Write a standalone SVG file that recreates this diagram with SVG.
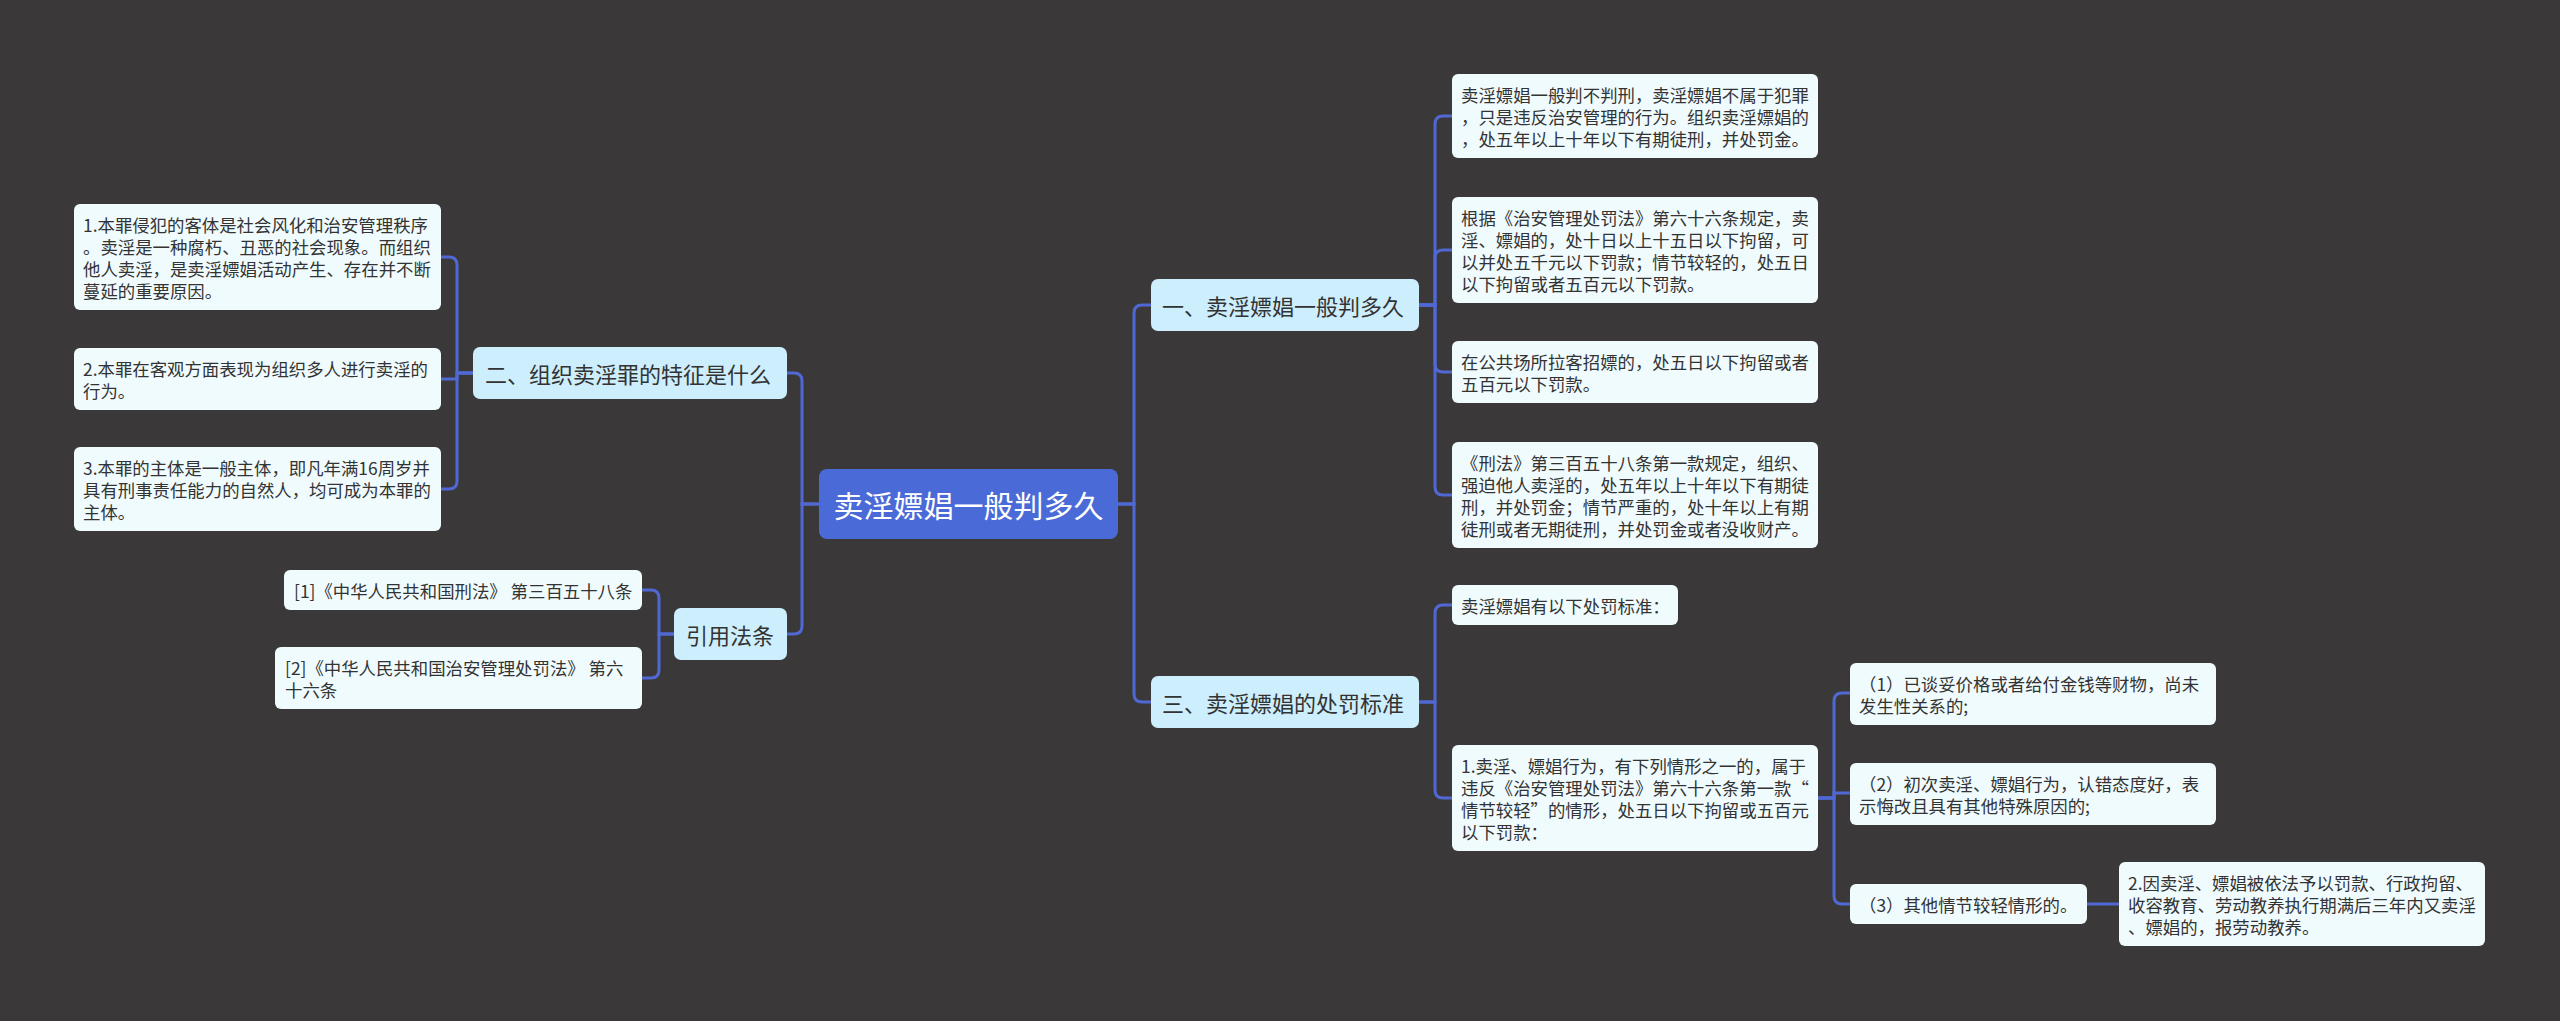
<svg xmlns="http://www.w3.org/2000/svg" width="2560" height="1021" viewBox="0 0 2560 1021">
<style>
text{font-family:"Noto Sans CJK SC","Noto Sans",sans-serif;dominant-baseline:central}
.leaf rect{fill:#f0fbfe}
.leaf text{font-size:17.4px;fill:#333}
.br rect{fill:#cdeefc}
.br text{font-size:22px;fill:#333}
.root rect{fill:#4a6ad8}
.root text{font-size:30px;fill:#fff}
#connectors path{fill:none;stroke:#5068d4;stroke-width:3}
</style>
<rect width="2560" height="1021" fill="#3a3839"/>
<g id="connectors">
<!-- root left -->
<path d="M819,504 H802 V381 Q802,373 794,373 H787"/>
<path d="M819,504 H802 V626 Q802,634 794,634 H787"/>
<!-- 二 children -->
<path d="M473,373 H457 V265 Q457,257 449,257 H441"/>
<path d="M473,373 H457 V379 H441"/>
<path d="M473,373 H457 V481 Q457,489 449,489 H441"/>
<!-- 引用法条 children -->
<path d="M674,634 H659 V598 Q659,590 651,590 H642"/>
<path d="M674,634 H659 V670 Q659,678 651,678 H642"/>
<!-- root right -->
<path d="M1118,504 H1134 V313 Q1134,305 1142,305 H1151"/>
<path d="M1118,504 H1134 V694 Q1134,702 1142,702 H1151"/>
<!-- 一 children -->
<path d="M1419,305 H1435 V124 Q1435,116 1443,116 H1452"/>
<path d="M1419,305 H1435 V258 Q1435,250 1443,250 H1452"/>
<path d="M1419,305 H1435 V364 Q1435,372 1443,372 H1452"/>
<path d="M1419,305 H1435 V487 Q1435,495 1443,495 H1452"/>
<!-- 三 children -->
<path d="M1419,702 H1435 V613 Q1435,605 1443,605 H1452"/>
<path d="M1419,702 H1435 V790 Q1435,798 1443,798 H1452"/>
<!-- D2 children -->
<path d="M1818,798 H1834 V701 Q1834,693 1842,693 H1850"/>
<path d="M1818,798 H1834 V793 H1850"/>
<path d="M1818,798 H1834 V896 Q1834,904 1842,904 H1850"/>
<!-- E3 to F1 -->
<path d="M2087,904 H2119"/>
</g>
<g id="root" class="root"><rect x="819" y="469" width="299" height="70" rx="8"/><text x="968.5" y="504" text-anchor="middle">卖淫嫖娼一般判多久</text></g>
<g id="n-er" class="br"><rect x="473" y="347" width="314" height="52" rx="7"/><text x="485" y="373">二、组织卖淫罪的特征是什么</text></g>
<g id="n-yin" class="br"><rect x="674" y="608" width="113" height="52" rx="7"/><text x="686" y="634">引用法条</text></g>
<g id="n-yi" class="br"><rect x="1151" y="279" width="268" height="52" rx="7"/><text x="1162" y="305">一、卖淫嫖娼一般判多久</text></g>
<g id="n-san" class="br"><rect x="1151" y="676" width="268" height="52" rx="7"/><text x="1162" y="702">三、卖淫嫖娼的处罚标准</text></g>

<g id="l1" class="leaf"><rect x="74" y="204" width="367" height="106" rx="6"/><text x="83" y="224">1.本罪侵犯的客体是社会风化和治安管理秩序</text><text x="83" y="246">。卖淫是一种腐朽、丑恶的社会现象。而组织</text><text x="83" y="268">他人卖淫，是卖淫嫖娼活动产生、存在并不断</text><text x="83" y="290">蔓延的重要原因。</text></g>
<g id="l2" class="leaf"><rect x="74" y="348" width="367" height="62" rx="6"/><text x="83" y="368">2.本罪在客观方面表现为组织多人进行卖淫的</text><text x="83" y="390">行为。</text></g>
<g id="l3" class="leaf"><rect x="74" y="447" width="367" height="84" rx="6"/><text x="83" y="467">3.本罪的主体是一般主体，即凡年满16周岁并</text><text x="83" y="489">具有刑事责任能力的自然人，均可成为本罪的</text><text x="83" y="511">主体。</text></g>

<g id="r1" class="leaf"><rect x="284" y="570" width="358" height="40" rx="6"/><text x="294" y="590">[1]《中华人民共和国刑法》 第三百五十八条</text></g>
<g id="r2" class="leaf"><rect x="275" y="647" width="367" height="62" rx="6"/><text x="285" y="667">[2]《中华人民共和国治安管理处罚法》 第六</text><text x="285" y="689">十六条</text></g>

<g id="c1" class="leaf"><rect x="1452" y="74" width="366" height="84" rx="6"/><text x="1461" y="94">卖淫嫖娼一般判不判刑，卖淫嫖娼不属于犯罪</text><text x="1461" y="116">，只是违反治安管理的行为。组织卖淫嫖娼的</text><text x="1461" y="138">，处五年以上十年以下有期徒刑，并处罚金。</text></g>
<g id="c2" class="leaf"><rect x="1452" y="197" width="366" height="106" rx="6"/><text x="1461" y="217">根据《治安管理处罚法》第六十六条规定，卖</text><text x="1461" y="239">淫、嫖娼的，处十日以上十五日以下拘留，可</text><text x="1461" y="261">以并处五千元以下罚款；情节较轻的，处五日</text><text x="1461" y="283">以下拘留或者五百元以下罚款。</text></g>
<g id="c3" class="leaf"><rect x="1452" y="341" width="366" height="62" rx="6"/><text x="1461" y="361">在公共场所拉客招嫖的，处五日以下拘留或者</text><text x="1461" y="383">五百元以下罚款。</text></g>
<g id="c4" class="leaf"><rect x="1452" y="442" width="366" height="106" rx="6"/><text x="1461" y="462">《刑法》第三百五十八条第一款规定，组织、</text><text x="1461" y="484">强迫他人卖淫的，处五年以上十年以下有期徒</text><text x="1461" y="506">刑，并处罚金；情节严重的，处十年以上有期</text><text x="1461" y="528">徒刑或者无期徒刑，并处罚金或者没收财产。</text></g>

<g id="d1" class="leaf"><rect x="1452" y="585" width="226" height="40" rx="6"/><text x="1461" y="605">卖淫嫖娼有以下处罚标准：</text></g>
<g id="d2" class="leaf"><rect x="1452" y="745" width="366" height="106" rx="6"/><text x="1461" y="765">1.卖淫、嫖娼行为，有下列情形之一的，属于</text><text x="1461" y="787">违反《治安管理处罚法》第六十六条第一款“</text><text x="1461" y="809">情节较轻”的情形，处五日以下拘留或五百元</text><text x="1461" y="831">以下罚款：</text></g>

<g id="e1" class="leaf"><rect x="1850" y="663" width="366" height="62" rx="6"/><text x="1859" y="683">（1）已谈妥价格或者给付金钱等财物，尚未</text><text x="1859" y="705">发生性关系的;</text></g>
<g id="e2" class="leaf"><rect x="1850" y="763" width="366" height="62" rx="6"/><text x="1859" y="783">（2）初次卖淫、嫖娼行为，认错态度好，表</text><text x="1859" y="805">示悔改且具有其他特殊原因的;</text></g>
<g id="e3" class="leaf"><rect x="1850" y="884" width="237" height="40" rx="6"/><text x="1859" y="904">（3）其他情节较轻情形的。</text></g>
<g id="f1" class="leaf"><rect x="2119" y="862" width="366" height="84" rx="6"/><text x="2128" y="882">2.因卖淫、嫖娼被依法予以罚款、行政拘留、</text><text x="2128" y="904">收容教育、劳动教养执行期满后三年内又卖淫</text><text x="2128" y="926">、嫖娼的，报劳动教养。</text></g>
</svg>
